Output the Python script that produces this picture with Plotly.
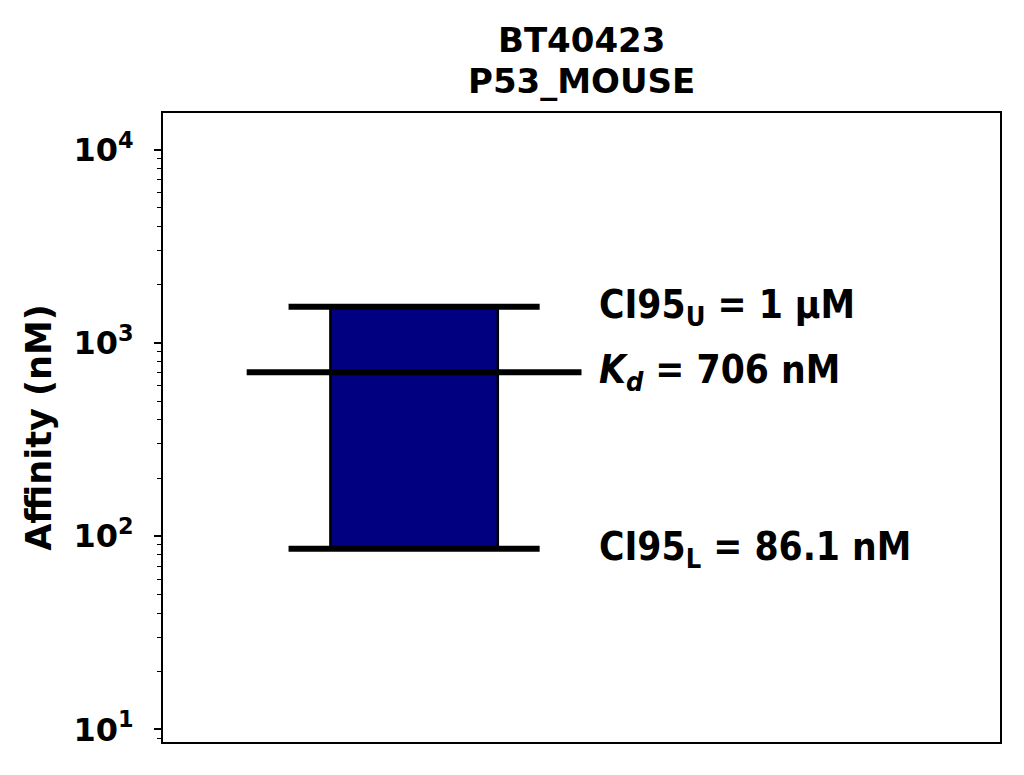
import numpy as np
import plotly.graph_objects as go

# ---- data ----
title_lines = ["BT40423", "P53_MOUSE"]
kd = 706.0
ci_lower = 86.1
ci_upper = 1540.0
labels = {
    "upper": "CI95<sub>U</sub> = 1 µM",
    "kd": "<i>K<sub>d</sub></i> = 706 nM",
    "lower": "CI95<sub>L</sub> = 86.1 nM",
}
y_tickvals = [10, 100, 1000, 10000]
y_ticktext = ["10<sup>1</sup>", "10<sup>2</sup>", "10<sup>3</sup>", "10<sup>4</sup>"]
y_title = "Affinity (nM)"

center = 0.0
bar_w = 0.2
ci_half = 0.15
kd_half = 0.2
text_x = 0.2185

bold = "DejaVu Sans"
cond = "DejaVu Sans Condensed, DejaVu Sans"

fig = go.Figure()
fig.add_trace(go.Bar(
    x=[center], y=[ci_upper - ci_lower], base=[ci_lower], width=bar_w,
    marker=dict(color="#000080", line=dict(color="black", width=2.5)),
    showlegend=False, hoverinfo="skip",
))
for val, half in [(ci_upper, ci_half), (ci_lower, ci_half), (kd, kd_half)]:
    fig.add_trace(go.Scatter(
        x=[center - half, center + half], y=[val, val], mode="lines",
        line=dict(color="black", width=6), showlegend=False, hoverinfo="skip",
    ))

for key, val in [("upper", ci_upper), ("kd", kd), ("lower", ci_lower)]:
    fig.add_annotation(
        x=text_x, y=np.log10(val), xref="x", yref="y", text="<b>" + labels[key] + "</b>",
        showarrow=False, xanchor="left", yanchor="middle",
        font=dict(family=cond, size=38.6, color="black"),
    )

for line, ypos in zip(title_lines, [1.116, 1.051]):
    fig.add_annotation(
        x=0.5, y=ypos, xref="paper", yref="paper", xanchor="center", yanchor="middle",
        text="<b>" + line + "</b>", showarrow=False,
        font=dict(family=bold, size=34, color="black"),
    )

fig.update_layout(
    width=1024, height=775,
    margin=dict(l=155, r=32, t=105, b=41),
    paper_bgcolor="white", plot_bgcolor="white",
    font=dict(family=bold, color="black"),
)
fig.update_xaxes(
    range=[-0.3, 0.7], showticklabels=False, ticks="", showgrid=False, zeroline=False,
    showline=True, linecolor="black", linewidth=2, mirror=True,
)
fig.update_yaxes(
    type="log", range=[np.log10(8.6), np.log10(15500)],
    tickvals=y_tickvals, ticktext=["<b>" + t + "</b>" for t in y_ticktext],
    ticks="outside", ticklen=7, tickwidth=1.5, tickcolor="black",
    minor=dict(ticks="outside", ticklen=4, tickwidth=1.2, tickcolor="black", dtick="D1", showgrid=False),
    tickfont=dict(family=bold, size=32, color="black"),
    ticklabelstandoff=14,
    showgrid=False, zeroline=False,
    showline=True, linecolor="black", linewidth=2, mirror=True,
    title=dict(text="<b>" + y_title + "</b>", font=dict(family=bold, size=35, color="black"), standoff=11),
)

fig.write_html("out.html")
